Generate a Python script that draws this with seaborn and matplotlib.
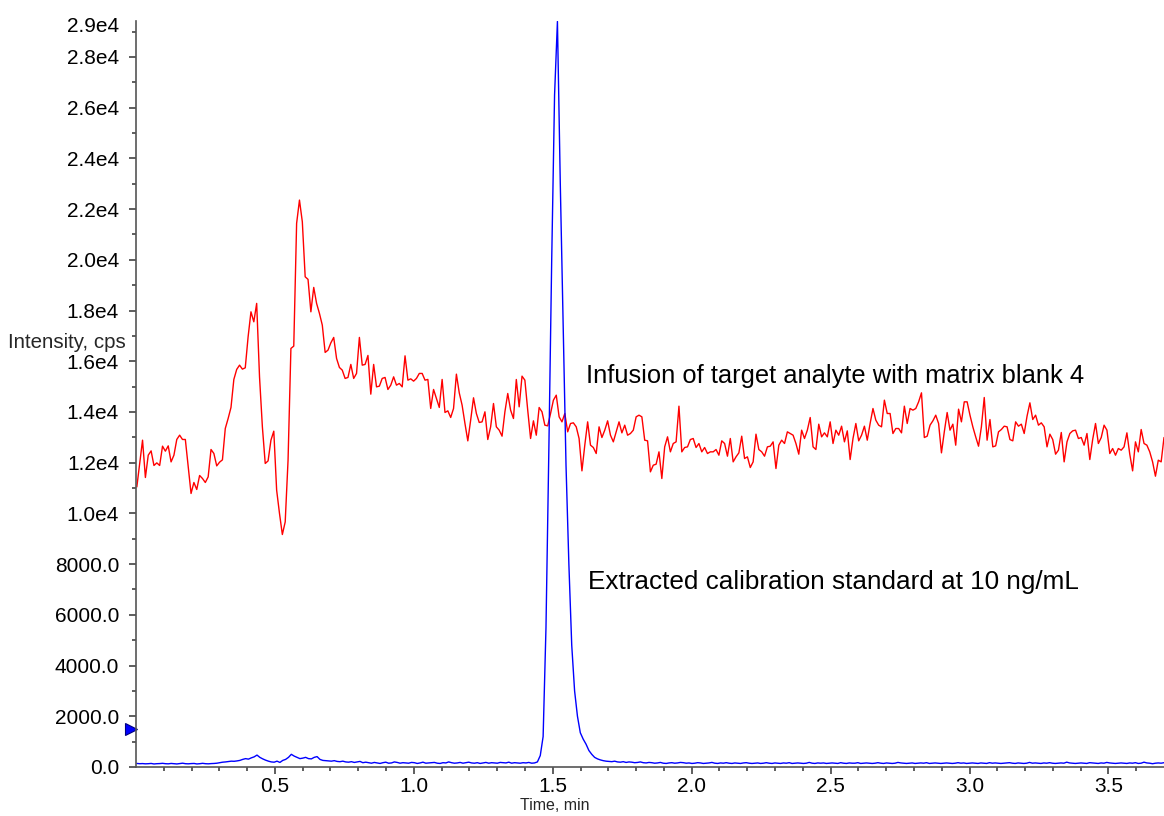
import numpy as np
import pandas as pd
import matplotlib
matplotlib.use("Agg")
import matplotlib.pyplot as plt
import matplotlib.transforms as mtransforms
from matplotlib.ticker import FixedLocator, FuncFormatter
import seaborn as sns

# ---------------- data ----------------
time_start, time_end = 0.003, 3.700

red_seg_a = [11046, 11969, 12888, 11417, 12297, 12466, 11890, 11993, 11890, 12652,
             12455, 12664, 12032, 12297, 12916, 13086, 12916, 12916, 11835, 10786,
             11220, 10944, 11496, 11378, 11220, 11441, 12521, 12364, 11875, 12021,
             12112, 13350, 13744, 14179, 15283, 15678, 15847, 15690, 15741, 16964,
             17950, 17556, 18282, 15386, 13413, 11969, 12072, 12888, 13243, 10916,
             9997, 9168, 9665, 12100, 16506, 16597, 21437, 22356, 21500, 19331,
             19229, 17950, 18912, 18282, 17887, 17425, 16348, 16439, 16727, 16940,
             16111, 15756, 15650, 15323, 15362, 15875, 15323, 15520, 16940, 15847,
             15875, 16230, 14703, 15875, 14991, 15019, 15323, 15362, 14888, 15058,
             15386, 15058, 15125, 14991, 16214, 15255, 15307, 15216, 15323, 15520,
             15520, 15255, 15283, 14139, 14888, 14533, 14179, 15283, 13981, 14045,
             13784, 14139, 15492, 14755, 14269, 13547, 12861, 13677, 14559, 13942,
             13587, 13610]
red_seg_b = [14006, 12914, 13414, 14334, 13414, 13283, 13046, 14006, 14729, 14071,
             13743, 15281, 14203, 15413, 15255, 14071, 12954, 13651, 13085, 14177,
             14006, 13480, 13453, 13940, 14466, 14663, 13809, 13611, 13940, 13217,
             13546, 13572, 13414, 12954, 11678, 12691, 13611, 12691, 12599, 12362,
             13414, 12993, 13283, 13651, 13085, 12822, 13217, 13611, 13177, 13480,
             13085, 13151, 13283, 13809, 13874, 13809, 12888, 12862, 11639, 11902,
             11941, 12428, 11376, 12625, 13020, 12428, 12757, 12822, 14229, 12428,
             12599, 12625, 12914, 12954, 12599, 12757, 12428, 12599, 12362, 12428]
red_seg_c = [12428, 12520, 12296, 12862, 12757, 12257, 12954, 12033, 12231, 12388,
             13046, 12165, 12231, 11810, 12033, 13125, 12520, 12428, 12257, 12625,
             12651, 12822, 11770, 12691, 12888, 12757, 13217, 13151, 13085, 12757,
             12336, 13283, 12954, 13283, 13782, 12625, 12520, 13519, 13020, 13177,
             13020, 13611, 12757, 13283, 13085, 13440, 12822, 13256, 12125, 12954,
             13546, 12862, 13085, 13440, 12888, 13546, 14137, 13677, 13480, 13414,
             14466, 13940, 13940, 13151, 13348, 13348, 13177, 14229, 13546, 14137,
             14072, 14137, 14400, 14755, 12993, 13046, 13480, 13651, 13874]
red_seg_d = [13546, 12388, 13217, 13979, 13283, 13519, 12691, 14111, 13611, 14400,
             14400, 13874, 13414, 13020, 12651, 13414, 14571, 12888, 13703, 12625,
             12664, 13217, 13309, 13440, 13414, 12914, 12862, 13611, 13440, 13519,
             13151, 13835, 14361, 13703, 13874, 13480, 13572, 13414, 12625, 13125,
             12914, 12336, 12494, 13191, 12033, 12822, 13151, 13256, 13283, 12954,
             12993, 12691, 13151, 12125, 12914, 13546, 12757, 12993, 13480, 13283,
             12362, 12559, 12296, 12559, 12494, 12625, 13177, 12336, 11678, 12822,
             12428, 13309, 12757, 12691, 12428, 12033, 11468, 12099, 12033, 12993]
red_intensity = red_seg_a + red_seg_b + red_seg_c + red_seg_d

blue_seg_a = [140, 130, 135, 125, 130, 140, 120, 130, 135, 145, 130, 125, 140, 130, 120,
              135, 150, 130, 125, 135, 140, 120, 130, 145, 130, 125, 135, 140,
              150, 170, 190, 200, 215, 230, 225, 240,
              260, 300, 330, 310, 360, 400, 470,
              380, 320, 270, 230, 200, 190, 230, 180, 260, 300, 380, 500, 430, 380,
              330, 350, 380, 330, 320, 380, 410, 300, 260,
              250, 240, 230, 250, 220, 210, 230, 200, 190, 210, 180, 200, 220, 170, 190]
blue_seg_b = [170, 150, 180, 160, 140, 170, 190, 150, 160, 200, 180, 150, 170, 160, 150,
              180, 170, 140, 160, 190, 150, 160, 170, 180, 150, 140, 170, 160, 200, 170,
              150, 160, 180, 150, 170, 190, 160, 150, 170, 140, 160, 180, 150, 170, 160,
              150, 180, 170, 160, 190, 150, 170, 160, 150, 170, 160, 180, 150, 160]
blue_peak = [200, 450, 1200, 5500, 12500, 20000, 26500, 29400, 23000, 17400, 11900,
             8000, 4800, 3000, 2000, 1350, 1100, 900, 650, 500, 380, 320, 280, 250, 230]
blue_seg_c = [220, 210, 230, 200, 190, 210, 180, 200, 190, 170, 180, 200, 170, 160, 180,
              170, 150, 160, 180, 150, 140, 160, 170, 150, 160, 180, 170, 150, 160, 140,
              150, 170, 160, 140, 150, 160, 180, 150, 140, 160, 150, 170, 150, 140, 160,
              150, 140, 160, 170, 150, 140, 150, 160, 140, 150, 170, 150, 140, 160, 150,
              140, 160, 150, 170, 140, 150, 160, 150, 140, 150, 180, 150, 140, 160, 150,
              160, 140, 150, 160, 150, 140, 170, 150, 140, 160, 150, 150, 170, 140, 150,
              160, 150, 140, 150, 170, 150, 140, 160, 150, 140, 150, 180, 160, 150, 140,
              150, 160, 140, 150, 160, 150, 170, 140, 150, 160, 150, 140, 150, 160, 150,
              140, 150, 170, 150, 160, 140, 150, 160, 150, 140, 160, 150, 140, 170, 150,
              160, 150, 140, 150, 160, 170, 150, 140, 160, 150, 140, 150, 180, 150, 160,
              150, 140, 160, 150, 170, 150, 140, 150, 160, 150, 190, 160, 150, 140, 150,
              160, 150, 140, 170, 160, 150, 140, 160, 150, 180, 160, 150, 140, 150, 160,
              150, 140, 160, 150, 170, 140, 150, 190, 160, 150, 130, 150, 160, 150, 170]
blue_intensity = blue_seg_a + blue_seg_b + blue_peak + blue_seg_c

marker_level = 1500

label_red = "Infusion of target analyte with matrix blank 4"
label_blue = "Extracted calibration standard at 10 ng/mL"
label_red_pos = (1.618, 15400)
label_blue_pos = (1.628, 7290)

x_major = [0.5, 1.0, 1.5, 2.0, 2.5, 3.0, 3.5]
y_major = list(range(0, 28001, 2000))
y_minor = list(range(1000, 29001, 2000))
x_lim = (0.0, 3.70)
y_lim = (0, 29430)

# ---------------- figure ----------------
sns.set_style("ticks")
plt.rcParams["font.family"] = ["Liberation Sans", "DejaVu Sans"]

red_df = pd.DataFrame({
    "time": np.linspace(time_start, time_end, len(red_intensity)),
    "intensity": red_intensity})
blue_df = pd.DataFrame({
    "time": np.linspace(time_start, time_end, len(blue_intensity)),
    "intensity": blue_intensity})

fig = plt.figure(figsize=(11.64, 8.16), dpi=100)
ax = fig.add_axes([136 / 1164, 1 - 767 / 816, 1 - 136 / 1164, (767 - 20.7) / 816])

sns.lineplot(data=red_df, x="time", y="intensity", color="#FF0000", lw=1.0,
             estimator=None, ax=ax)
sns.lineplot(data=blue_df, x="time", y="intensity", color="#0000FF", lw=1.0,
             estimator=None, ax=ax)

ax.set_xlim(*x_lim)
ax.set_ylim(*y_lim)
ax.set_xlabel("")
ax.set_ylabel("")

for s in ["top", "right"]:
    ax.spines[s].set_visible(False)
for s in ["left", "bottom"]:
    ax.spines[s].set_color("#555555")
    ax.spines[s].set_linewidth(1.2)

ax.xaxis.set_major_locator(FixedLocator(x_major))
ax.xaxis.set_minor_locator(FixedLocator(np.round(np.arange(0.1, 3.7, 0.1), 2)))
ax.xaxis.set_major_formatter(FuncFormatter(lambda v, p: f"{v:.1f}"))

def yfmt(v, p):
    if v >= 10000:
        return f"{v / 1e4:.1f}e4"
    return f"{v:.1f}"

ax.yaxis.set_major_locator(FixedLocator(y_major))
ax.yaxis.set_minor_locator(FixedLocator(y_minor))
ax.yaxis.set_major_formatter(FuncFormatter(yfmt))
ax.yaxis.set_minor_formatter(FuncFormatter(lambda v, p: yfmt(v, p) if v == 29000 else ""))

ax.tick_params(which="both", bottom=True, left=True, top=False, right=False)
ax.tick_params(axis="y", which="major", direction="out", length=4.8, width=1.1,
               color="#333333", labelsize=15, labelcolor="black", pad=7.4)
ax.tick_params(axis="y", which="minor", direction="out", length=2.9, width=1.1,
               color="#333333", labelsize=15, labelcolor="black", pad=9.3)
ax.tick_params(axis="x", which="major", direction="out", length=4.8, width=1.1,
               color="#333333", labelsize=15, labelcolor="black", pad=2.5)
ax.tick_params(axis="x", which="minor", direction="out", length=2.9, width=1.1,
               color="#333333")

# lift the topmost label slightly, as in the reference
for t in ax.yaxis.get_minor_ticks():
    t.label1.set_transform(t.label1.get_transform() +
                           mtransforms.ScaledTranslation(0, 5 / 72, fig.dpi_scale_trans))

ax.text(*label_red_pos, label_red, fontsize=18.4, ha="left", va="center", color="black")
ax.text(*label_blue_pos, label_blue, fontsize=18.8, ha="left", va="center", color="black")

fig.text(8 / 1164, 1 - 342 / 816, "Intensity, cps", fontsize=14.8, ha="left", va="center")
fig.text(555 / 1164, 1 - 806 / 816, "Time, min", fontsize=11.5, ha="center", va="center")

# current-position marker on the y axis
trans = mtransforms.offset_copy(ax.transData, fig=fig, x=-3.5, y=0, units="points")
ax.plot([0], [marker_level], marker=">", markersize=9, color="#0000FF",
        markeredgecolor="#000080", markeredgewidth=0.8, clip_on=False, transform=trans)

fig.savefig("out.png", dpi=100)
